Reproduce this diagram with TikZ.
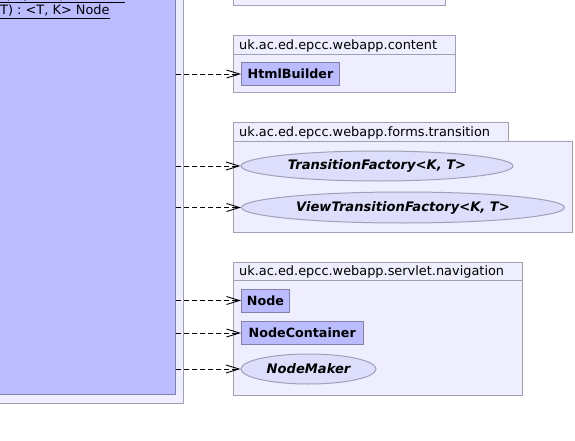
\documentclass[tikz,border=0pt]{standalone}
\usepackage{fontspec}
\setmainfont{DejaVu Sans}
\usetikzlibrary{arrows.meta,shapes.geometric}
\definecolor{pkgfill}{RGB}{238,238,255}
\definecolor{pkgline}{RGB}{160,160,180}
\definecolor{clsfill}{RGB}{187,187,255}
\definecolor{clsline}{RGB}{128,128,168}
\definecolor{ifcfill}{RGB}{221,221,252}
\definecolor{ifcline}{RGB}{160,160,184}
\tikzset{
  pkg/.style={draw=pkgline, fill=pkgfill, line width=1pt},
  pkglabel/.style={anchor=base west, inner sep=0pt, font=\fontsize{12.9}{15}\selectfont},
  cls/.style={draw=clsline, fill=clsfill, line width=1pt, anchor=north west, inner sep=0pt,
    minimum height=23pt, font=\fontsize{12.7}{15}\selectfont\bfseries},
  ifc/.style={ellipse, draw=ifcline, fill=ifcfill, line width=1pt, inner sep=0pt,
    font=\fontsize{13.1}{15}\selectfont\bfseries\itshape},
  dep/.style={dash pattern=on 5pt off 3pt, line width=0.9pt, -{Straight Barb[length=13pt,width=8pt]}},
}

\begin{document}
\begin{tikzpicture}[x=1pt,y=-1pt]
\useasboundingbox (0,0) rectangle (575,441);
\clip (0,0) rectangle (575,441);

% --- left package with the implementing class ---
\draw[pkg] (-20,-20) rectangle (183,403);
\node[draw=clsline, fill=clsfill, line width=1pt, minimum width=196pt, minimum height=415pt,
  anchor=south east] (impl) at (176,395) {};
\node[pkglabel, anchor=base east] (opA) at (125,-0.5) {\underline{(T, K, T) : <T, K> Node}};
\node[pkglabel] (opB) at (-5,15) {\underline{(T) : <T, K> Node}};

% --- package cut at the top ---
\draw[pkg] (233,-20) rectangle (445,6);

% --- uk.ac.ed.epcc.webapp.content ---
\draw[pkg] (233,36) rectangle (455,55);
\draw[pkg] (233,55) rectangle (455,93);
\node[pkglabel] (lContent) at (239,49.5) {uk.ac.ed.epcc.webapp.content};
\node[cls, minimum width=98pt] (html) at (241,62) {HtmlBuilder};

% --- uk.ac.ed.epcc.webapp.forms.transition ---
\draw[pkg] (233,123) rectangle (508,141);
\draw[pkg] (233,141) rectangle (572,232);
\node[pkglabel] (lTrans) at (239,136) {uk.ac.ed.epcc.webapp.forms.transition};
\node[ifc, minimum width=272pt, minimum height=30pt] (tf) at (377,166) {TransitionFactory<K, T>};
\node[ifc, minimum width=323pt, minimum height=31pt] (vtf) at (403,207.5) {ViewTransitionFactory<K, T>};

% --- uk.ac.ed.epcc.webapp.servlet.navigation ---
\draw[pkg] (233,262) rectangle (522,280);
\draw[pkg] (233,280) rectangle (522,395);
\node[pkglabel] (lNav) at (239,275) {uk.ac.ed.epcc.webapp.servlet.navigation};
\node[cls, minimum width=48pt] (node) at (241,288.5) {Node};
\node[cls, minimum width=121.5pt] (cont) at (241,321) {NodeContainer};
\node[ifc, minimum width=135pt, minimum height=30pt] (maker) at (308.5,369) {NodeMaker};

% dependencies
\foreach \t in {html,tf,vtf,node,cont,maker}
  \draw[dep] (impl.east |- \t.west) -- (\t.west);

\end{tikzpicture}
\end{document}
